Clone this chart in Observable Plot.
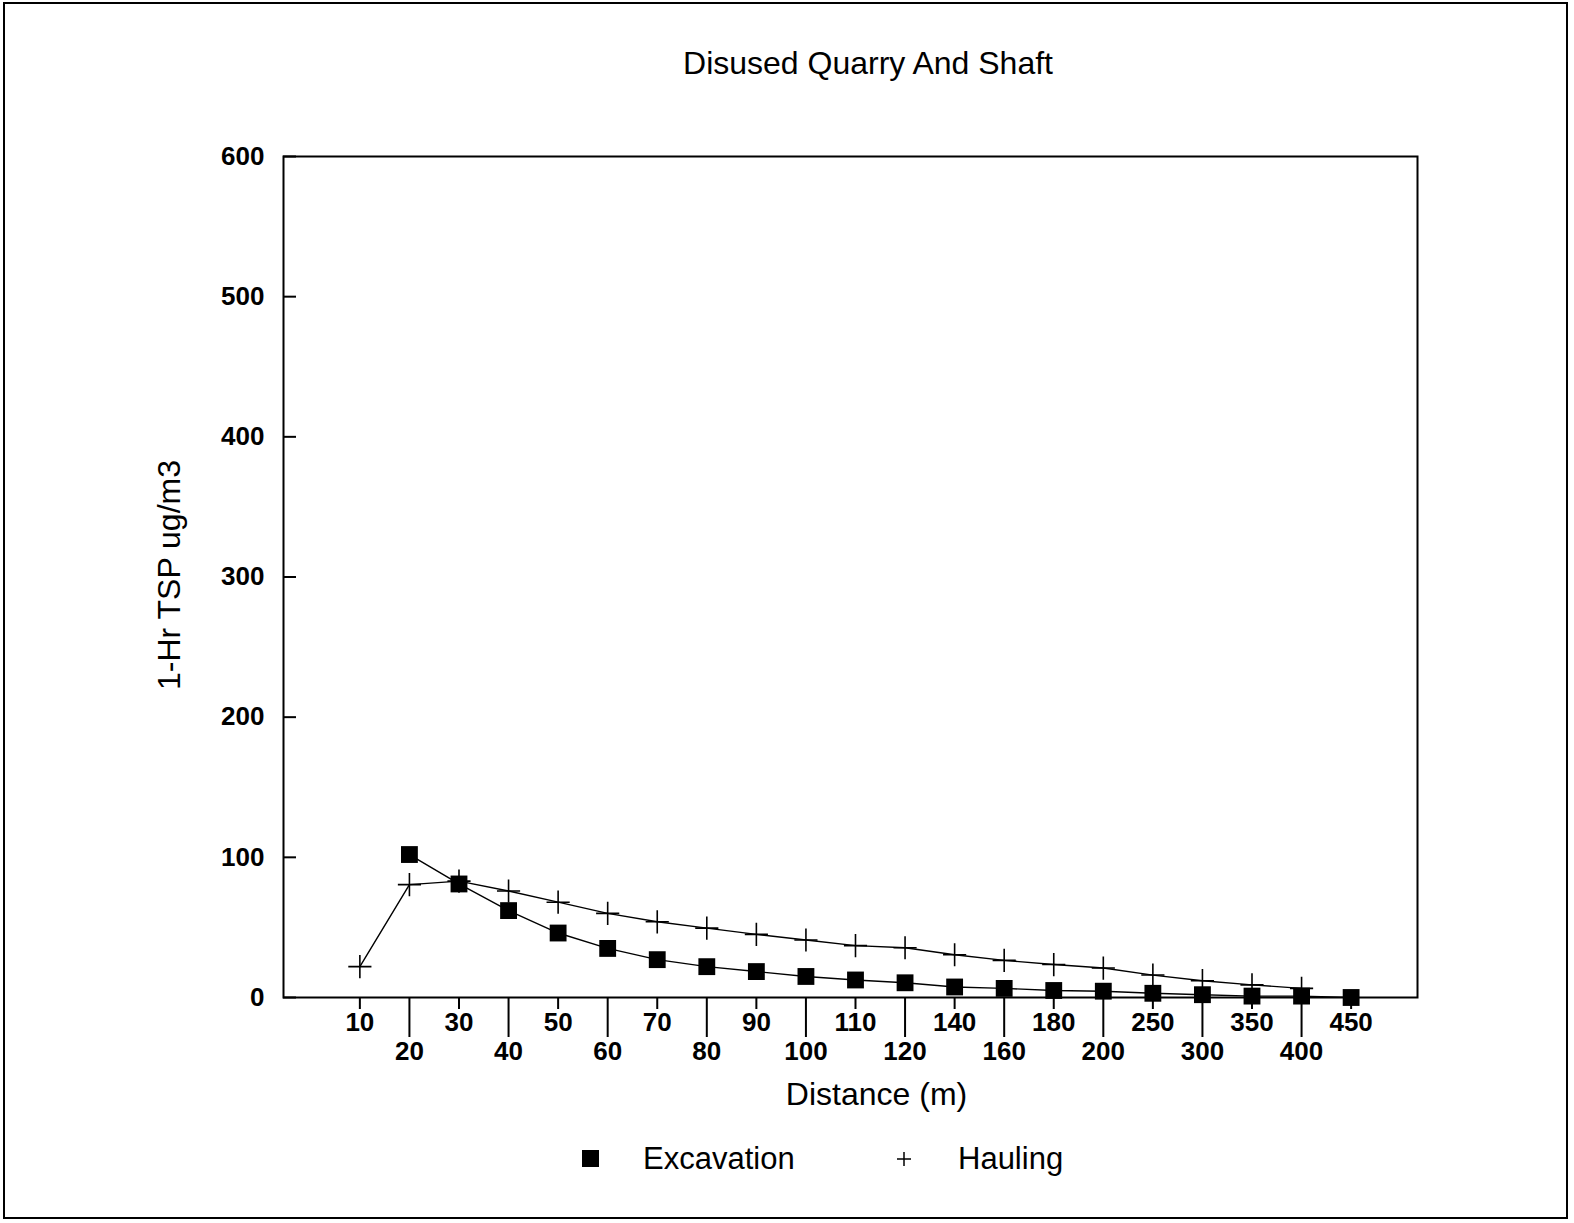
<!DOCTYPE html>
<html>
<head>
<meta charset="utf-8">
<script src="https://cdn.jsdelivr.net/npm/d3@7"></script>
<script src="https://cdn.jsdelivr.net/npm/@observablehq/plot@0.6"></script>
<style>
  html, body { margin: 0; padding: 0; background: white; }
  #page { position: relative; width: 1574px; height: 1223px; font-family: "Liberation Sans", Arial, sans-serif; color: black; overflow: hidden; }
  #border { position: absolute; left: 3px; top: 2px; width: 1561px; height: 1213px; border: 2px solid black; pointer-events: none; }
  #title { position: relative; height: 130px; }
  #title span { position: absolute; left: 868px; top: 45px; transform: translateX(-50%); font-size: 32px; white-space: nowrap; }
  #chart { position: relative; height: 990px; }
  #legend { position: relative; height: 80px; font-size: 31px; }
  #legend .item { position: absolute; top: 21px; white-space: nowrap; }
  #legend svg { display: block; }
</style>
</head>
<body>
<div id="page">
  <div id="title"><span>Disused Quarry And Shaft</span></div>
  <div id="chart"></div>
  <div id="legend"></div>
  <div id="border"></div>
</div>
<script>
const distances = ["10","20","30","40","50","60","70","80","90","100","110","120","140","160","180","200","250","300","350","400","450"];
const excavation = [null, 102, 81, 62, 46, 35, 27, 22, 18.5, 15, 12.5, 10.5, 7.5, 6.5, 5, 4.5, 3, 2, 1, 1, 0];
const hauling = [22, 80.5, 83, 76, 68, 60, 54, 49.5, 45, 41, 37, 35.5, 30.5, 26.5, 23.5, 21, 16, 12, 9, 6.5, null];
const yTicks = [0, 100, 200, 300, 400, 500, 600];
const seriesNames = ["Excavation", "Hauling"];

const excData = distances.map((d, i) => ({distance: d, value: excavation[i]})).filter(d => d.value != null);
const haulData = distances.map((d, i) => ({distance: d, value: hauling[i]})).filter(d => d.value != null);
const topRow = distances.filter((d, i) => i % 2 === 0);
const bottomRow = distances.filter((d, i) => i % 2 === 1);

const chart = Plot.plot({
  width: 1574,
  height: 990,
  marginLeft: 283,
  marginRight: 157,
  marginTop: 26,
  marginBottom: 123,
  style: {fontFamily: "Liberation Sans, Arial, sans-serif", color: "black", background: "white", overflow: "visible"},
  x: {type: "point", domain: distances, padding: 1.44, align: 0.535, round: false},
  y: {domain: [0, 600]},
  marks: [
    Plot.frame({stroke: "black", strokeWidth: 2}),
    Plot.axisY(yTicks, {tickSize: -13, tickPadding: 32, fontSize: 26, fontWeight: "bold", strokeWidth: 2, label: null}),
    Plot.axisX(topRow, {tickSize: 12, tickPadding: 3, fontSize: 26, fontWeight: "bold", strokeWidth: 2, label: null}),
    Plot.axisX(bottomRow, {tickSize: 40, tickPadding: 4, fontSize: 26, fontWeight: "bold", strokeWidth: 2, label: null}),
    Plot.line(haulData, {x: "distance", y: "value", stroke: "black", strokeWidth: 1.4}),
    Plot.line(excData, {x: "distance", y: "value", stroke: "black", strokeWidth: 1.4}),
    Plot.dot(haulData, {x: "distance", y: "value", symbol: "plus", r: 7.5, stroke: "black", strokeWidth: 1.6}),
    Plot.dot(excData, {x: "distance", y: "value", symbol: "square", r: 9.5, fill: "black", stroke: "none"}),
    Plot.text(["Distance (m)"], {frameAnchor: "bottom", dx: 26, dy: 97, fontSize: 32, lineAnchor: "middle"}),
    Plot.text(["1-Hr TSP ug/m3"], {frameAnchor: "left", textAnchor: "middle", dx: -114, dy: -2, rotate: -90, fontSize: 32, lineAnchor: "middle"})
  ]
});
document.getElementById("chart").appendChild(chart);

const legend = document.getElementById("legend");
legend.innerHTML = `
  <div class="item" style="left:582px; top:30px;"><svg width="18" height="18"><rect width="17" height="17" fill="black"/></svg></div>
  <div class="item" style="left:643px;">${seriesNames[0]}</div>
  <div class="item" style="left:896px; top:31px;"><svg width="16" height="16"><path d="M8,1V15M1,8H15" stroke="black" stroke-width="1.5"/></svg></div>
  <div class="item" style="left:958px;">${seriesNames[1]}</div>
`;
</script>
</body>
</html>
